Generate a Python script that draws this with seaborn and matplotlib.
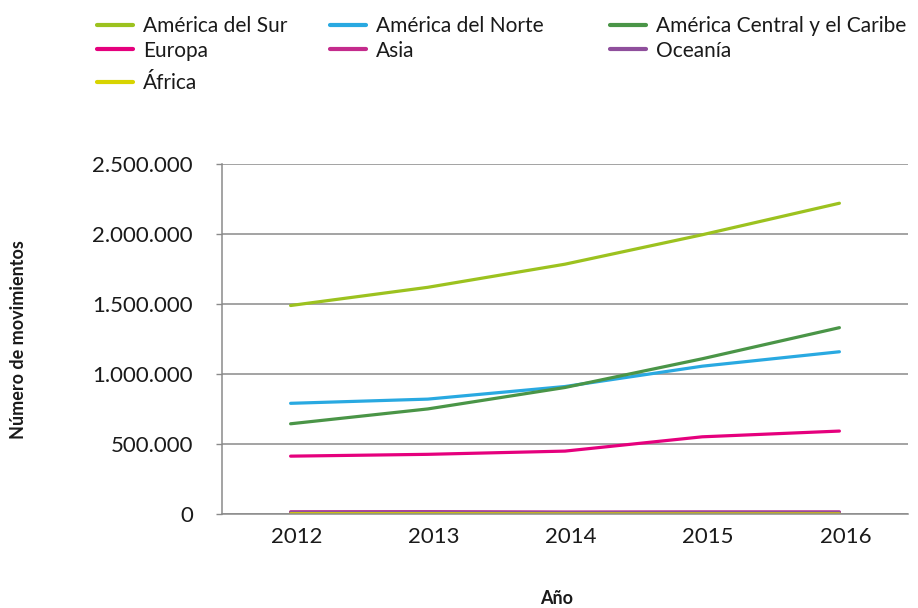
import matplotlib
matplotlib.use("Agg")
import matplotlib.pyplot as plt
import matplotlib.ticker as mticker
import matplotlib.transforms as mtransforms
import seaborn as sns
import pandas as pd

years = ["2012", "2013", "2014", "2015", "2016"]
regions = ["América del Sur", "América del Norte", "América Central y el Caribe",
           "Europa", "Asia", "Oceanía", "África"]
america_sur = [1490000, 1620000, 1785000, 1995000, 2220000]
america_norte = [792000, 822000, 912000, 1057000, 1160000]
america_central = [646000, 752000, 905000, 1110000, 1332000]
europa = [415000, 428000, 451000, 553000, 594000]
asia = [18000, 19000, 16000, 17000, 17000]
oceania = [14000, 15000, 13000, 14000, 14000]
africa = [4000, 4000, 3000, 3000, 3000]

colors = ["#9cc21f", "#29a9e1", "#4a9547", "#e5007d", "#c42b8c", "#8f4f9c", "#d8d400"]

series = [america_sur, america_norte, america_central, europa, asia, oceania, africa]
df = pd.DataFrame(
    [(r, i, v) for r, vals in zip(regions, series) for i, v in enumerate(vals)],
    columns=["region", "pos", "valor"],
)

sns.set_theme(style="white")
plt.rcParams["font.family"] = ["Lato", "DejaVu Sans"]

W, H = 918, 608
fig = plt.figure(figsize=(W / 100, H / 100), dpi=100)
ax = fig.add_axes([222 / W, 1 - 514.3 / H, (908 - 222) / W, (514.3 - 164) / H])

sns.lineplot(data=df, x="pos", y="valor", hue="region", hue_order=regions,
             palette=colors, linewidth=2.3, ax=ax, legend=False, sort=False)

grid_c = "#8a8a8a"
text_c = "#1a1a1a"
ax.set_xlim(-0.5, 4.5)
ax.set_ylim(0, 2500000)
ax.set_yticks([0, 500000, 1000000, 1500000, 2000000, 2500000])
ax.yaxis.set_major_formatter(
    mticker.FuncFormatter(lambda v, p: f"{int(v):,}".replace(",", ".")))
ax.set_xticks(range(len(years)))
ax.set_xticklabels(years)
ax.set_xticks([i - 0.5 for i in range(len(years) + 1)], minor=True)
ax.tick_params(axis="x", which="major", length=0, pad=9, labelsize=16, colors=text_c)
ax.tick_params(axis="x", which="minor", length=5, width=1, color=grid_c, direction="out")
ax.tick_params(axis="y", which="major", length=4, width=1, color=grid_c, pad=17,
               labelsize=16, labelcolor=text_c, left=True, direction="out")
shift = mtransforms.ScaledTranslation(6 / 100, 0, fig.dpi_scale_trans)
for lbl in ax.get_xticklabels():
    lbl.set_transform(lbl.get_transform() + shift)
ax.yaxis.grid(True, color=grid_c, linewidth=1.1)
ax.set_axisbelow(True)
for s in ["top", "right"]:
    ax.spines[s].set_visible(False)
for s in ["left", "bottom"]:
    ax.spines[s].set_color(grid_c)
    ax.spines[s].set_linewidth(1.1)

ax.set_xlabel("Año", fontsize=13, fontweight="bold", color=text_c)
ax.set_ylabel("Número de movimientos", fontsize=13, fontweight="bold", color=text_c)
ax.xaxis.label.set_va("center")
ax.yaxis.label.set_va("center")
ax.xaxis.set_label_coords((557 - 222) / (908 - 222), (514.3 - 598) / (514.3 - 164))
ax.yaxis.set_label_coords((19 - 222) / (908 - 222), 0.5)

# legend: three columns filled row by row, with a wider gap before the last row
handles = [plt.Line2D([], [], color=c, linewidth=3) for c in colors]
blocks = [([0, 3], 97, 16), ([1, 4], 330, 16), ([2, 5], 610, 16), ([6], 97, 73)]
for idx, x0, y0 in blocks:
    leg = fig.legend([handles[i] for i in idx], [regions[i] for i in idx],
                     loc="upper left", bbox_to_anchor=(x0 / W, 1 - y0 / H),
                     frameon=False, fontsize=15, handlelength=1.75,
                     handletextpad=0.45, labelspacing=0.22, borderpad=0,
                     borderaxespad=0)
    for t in leg.get_texts():
        t.set_color(text_c)

fig.savefig("out.png", dpi=100)
